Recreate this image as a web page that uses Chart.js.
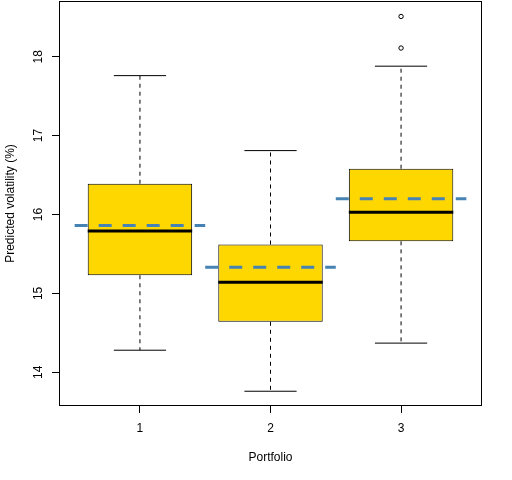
<!DOCTYPE html>
<html>
<head>
<meta charset="utf-8">
<script src="https://cdn.jsdelivr.net/npm/chart.js@4/dist/chart.umd.min.js"></script>
<style>
  body { margin: 0; background: #fff; }
  #wrap { width: 512px; height: 480px; position: relative; }
</style>
</head>
<body>
<div id="wrap"><canvas id="grafico"></canvas></div>
<script>
// boxplot stats
const portfolios = [1, 2, 3];
const whiskerLow = [14.28, 13.76, 14.37];
const quartil1 = [15.23, 14.64, 15.66];
const mediana = [15.79, 15.14, 16.03];
const quartil3 = [16.39, 15.62, 16.58];
const whiskerHigh = [17.76, 16.81, 17.88];
const medias = [15.86, 15.33, 16.20];
const outlierX = [3, 3];
const outlierY = [18.11, 18.51];
const yTicks = [14, 15, 16, 17, 18];

const meiaCaixa = 0.4;
const meiaCap = 0.2;
const meiaMedia = 0.5;

function segmentos(fn) {
  const pts = [];
  portfolios.forEach((p, i) => {
    fn(p, i).forEach(s => {
      pts.push({ x: s[0], y: s[1] }, { x: s[2], y: s[3] }, { x: p, y: null });
    });
  });
  return pts;
}

const moldura = {
  id: 'moldura',
  afterDraw(chart) {
    const a = chart.chartArea;
    const ctx = chart.ctx;
    ctx.save();
    ctx.strokeStyle = '#000';
    ctx.lineWidth = 1;
    ctx.strokeRect(Math.round(a.left) + 0.5, Math.round(a.top) + 0.5,
      Math.round(a.right - a.left) - 1, Math.round(a.bottom - a.top) - 1);
    ctx.restore();
  }
};

const fonte = { family: 'Liberation Sans, Arial, sans-serif', size: 12 };

new Chart(document.getElementById('grafico'), {
  type: 'bar',
  data: {
    datasets: [
      {
        type: 'line',
        order: 0,
        data: segmentos((p, i) => [[p - meiaMedia, medias[i], p + meiaMedia, medias[i]]]),
        borderColor: '#4682B4',
        borderWidth: 3,
        borderDash: [13, 11],
        borderCapStyle: 'butt',
        pointRadius: 0
      },
      {
        type: 'line',
        order: 1,
        data: segmentos((p, i) => [[p - meiaCaixa, mediana[i], p + meiaCaixa, mediana[i]]]),
        borderColor: '#000',
        borderWidth: 3,
        borderCapStyle: 'butt',
        pointRadius: 0
      },
      {
        type: 'scatter',
        order: 1,
        data: outlierX.map((x, i) => ({ x: x, y: outlierY[i] })),
        pointStyle: 'circle',
        pointRadius: 2.2,
        borderColor: '#000',
        borderWidth: 1,
        backgroundColor: 'rgba(0,0,0,0)'
      },
      {
        type: 'line',
        order: 2,
        data: segmentos((p, i) => [
          [p, quartil3[i], p, whiskerHigh[i]],
          [p, quartil1[i], p, whiskerLow[i]]
        ]),
        borderColor: '#000',
        borderWidth: 1,
        borderDash: [4, 4],
        pointRadius: 0
      },
      {
        type: 'line',
        order: 2,
        data: segmentos((p, i) => [
          [p - meiaCap, whiskerHigh[i], p + meiaCap, whiskerHigh[i]],
          [p - meiaCap, whiskerLow[i], p + meiaCap, whiskerLow[i]]
        ]),
        borderColor: '#000',
        borderWidth: 1,
        pointRadius: 0
      },
      {
        type: 'bar',
        order: 3,
        data: portfolios.map((p, i) => ({ x: p, y: [quartil1[i], quartil3[i]] })),
        backgroundColor: '#FFD700',
        borderColor: '#000',
        borderWidth: 1,
        borderSkipped: false,
        barPercentage: meiaCaixa * 2,
        categoryPercentage: 1
      }
    ]
  },
  options: {
    responsive: true,
    maintainAspectRatio: false,
    animation: false,
    events: [],
    layout: { autoPadding: false, padding: { top: 1, right: 30, left: 0, bottom: 0 } },
    plugins: { legend: { display: false }, tooltip: { enabled: false } },
    scales: {
      x: {
        type: 'linear',
        offset: false,
        min: 0.38,
        max: 3.62,
        afterBuildTicks: s => { s.ticks = portfolios.map(v => ({ value: v })); },
        afterFit: s => { s.height = 74; s.paddingLeft = 0; s.paddingRight = 0; },
        grid: { offset: false, drawOnChartArea: false, tickLength: 7, color: '#000', lineWidth: 1 },
        border: { display: false },
        ticks: { color: '#000', font: fonte, padding: 8, maxRotation: 0 },
        title: { display: true, text: 'Portfolio', color: '#000', font: fonte, padding: { top: 0, bottom: 15 } }
      },
      y: {
        type: 'linear',
        min: 13.573,
        max: 18.706,
        afterBuildTicks: s => { s.ticks = yTicks.map(v => ({ value: v })); },
        afterFit: s => { s.width = 59; s.paddingTop = 0; s.paddingBottom = 0; },
        grid: { drawOnChartArea: false, tickLength: 7, color: '#000', lineWidth: 1 },
        border: { display: false },
        ticks: { color: '#000', font: fonte, padding: 6.5, minRotation: 90, maxRotation: 90, crossAlign: 'center' },
        title: { display: true, text: 'Predicted volatility (%)', color: '#000', font: fonte, padding: { top: 3, bottom: 0 } }
      }
    }
  },
  plugins: [moldura]
});
</script>
</body>
</html>
